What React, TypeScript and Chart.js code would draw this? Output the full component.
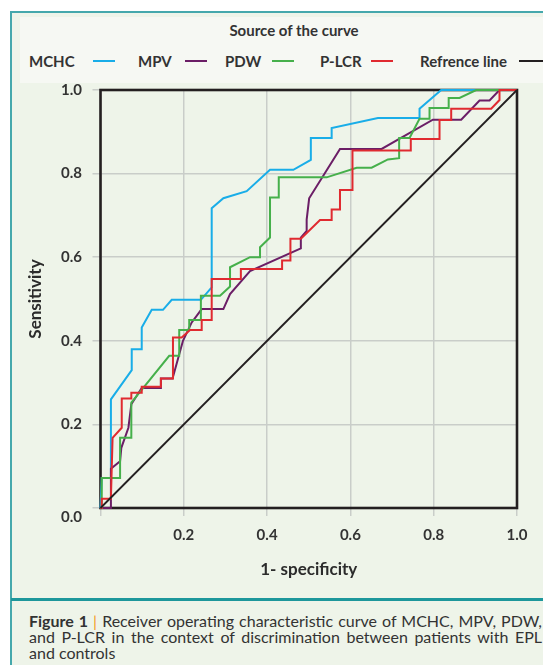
import React, { useEffect, useRef } from "react";
import { Chart, registerables } from "chart.js";

Chart.register(...registerables);

// ---- Data ----
const seriesNames = ["MCHC", "MPV", "PDW", "P-LCR", "Refrence line"];
const seriesColors = ["#19ade8", "#6b1e66", "#46b04b", "#e02a30", "#231f20"];

const mchcX = [0, 0.003, 0.025, 0.025, 0.075, 0.075, 0.099, 0.099, 0.123, 0.15, 0.171, 0.241, 0.267, 0.267, 0.295, 0.351, 0.407, 0.463, 0.505, 0.505, 0.555, 0.555, 0.666, 0.766, 0.766, 0.818, 1];
const mchcY = [0, 0.072, 0.072, 0.26, 0.33, 0.38, 0.38, 0.432, 0.474, 0.474, 0.498, 0.498, 0.528, 0.717, 0.741, 0.758, 0.809, 0.809, 0.833, 0.885, 0.885, 0.909, 0.933, 0.933, 0.955, 1, 1];

const mpvX = [0, 0.025, 0.025, 0.047, 0.05, 0.067, 0.074, 0.099, 0.145, 0.145, 0.173, 0.198, 0.219, 0.243, 0.295, 0.311, 0.359, 0.481, 0.481, 0.495, 0.495, 0.501, 0.575, 0.675, 0.798, 0.866, 0.91, 0.934, 0.958, 1];
const mpvY = [0, 0, 0.094, 0.112, 0.144, 0.192, 0.248, 0.287, 0.287, 0.31, 0.31, 0.4, 0.444, 0.476, 0.476, 0.512, 0.567, 0.621, 0.647, 0.663, 0.69, 0.741, 0.859, 0.859, 0.929, 0.929, 0.975, 0.975, 1, 1];

const pdwX = [0, 0.003, 0.003, 0.047, 0.047, 0.074, 0.074, 0.165, 0.189, 0.189, 0.213, 0.213, 0.241, 0.241, 0.287, 0.311, 0.311, 0.359, 0.383, 0.383, 0.407, 0.407, 0.428, 0.428, 0.543, 0.615, 0.651, 0.69, 0.717, 0.717, 0.742, 0.766, 0.79, 0.79, 0.836, 0.836, 0.862, 0.902, 1];
const pdwY = [0, 0, 0.072, 0.072, 0.168, 0.168, 0.252, 0.364, 0.364, 0.426, 0.426, 0.45, 0.45, 0.508, 0.508, 0.53, 0.576, 0.6, 0.6, 0.624, 0.647, 0.743, 0.743, 0.791, 0.791, 0.814, 0.814, 0.834, 0.837, 0.885, 0.885, 0.931, 0.931, 0.957, 0.957, 0.981, 0.981, 1, 1];

const plcrX = [0, 0.003, 0.003, 0.025, 0.029, 0.051, 0.051, 0.074, 0.074, 0.099, 0.099, 0.145, 0.145, 0.174, 0.174, 0.195, 0.215, 0.243, 0.243, 0.267, 0.267, 0.337, 0.337, 0.436, 0.436, 0.456, 0.456, 0.481, 0.527, 0.555, 0.555, 0.575, 0.575, 0.605, 0.605, 0.745, 0.745, 0.814, 0.814, 0.842, 0.842, 0.938, 0.958, 0.958, 1];
const plcrY = [0, 0, 0.022, 0.022, 0.168, 0.192, 0.262, 0.262, 0.276, 0.276, 0.29, 0.29, 0.31, 0.31, 0.408, 0.408, 0.426, 0.426, 0.45, 0.45, 0.548, 0.548, 0.572, 0.572, 0.592, 0.592, 0.644, 0.644, 0.689, 0.689, 0.714, 0.714, 0.761, 0.761, 0.855, 0.855, 0.883, 0.883, 0.928, 0.928, 0.955, 0.955, 0.976, 1, 1];

const refX = [0, 1];
const refY = [0, 1];

const xTicks = [0, 0.2, 0.4, 0.6, 0.8, 1.0];
const yTicks = [0, 0.2, 0.4, 0.6, 0.8, 1.0];

const legendTitle = "Source of the curve";
const xTitle = "1- specificity";
const yTitle = "Sensitivity";

const captionLead = "Figure 1";
const captionLines = [
  "Receiver operating characteristic curve of MCHC, MPV, PDW,",
  "and P-LCR in the context of discrimination between patients with EPL",
  "and controls",
];

// ---- Layout (page positions of legend items) ----
const legendTextLeft = [29, 138, 225, 320, 420];
const legendLineLeft = [93, 185, 272, 371, 519];
const legendLineWidth = [22, 22, 22, 22, 28];

const xs = [mchcX, mpvX, pdwX, plcrX, refX];
const ys = [mchcY, mpvY, pdwY, plcrY, refY];

const toPoints = (x: number[], y: number[]) => x.map((v, i) => ({ x: v, y: y[i] }));

const framePlugin = {
  id: "frameBox",
  beforeDatasetsDraw(chart: any) {
    const { ctx, chartArea } = chart;
    const { left, top, right, bottom } = chartArea;
    ctx.save();
    ctx.strokeStyle = "#231f20";
    ctx.lineWidth = 2.6;
    ctx.strokeRect(left, top, right - left, bottom - top);
    ctx.restore();
  },
};

const FONT = "Lato, 'Noto Sans', sans-serif";

export default function App() {
  const canvasRef = useRef<HTMLCanvasElement>(null);

  useEffect(() => {
    if (!canvasRef.current) return;
    const datasets = seriesNames.map((name, i) => ({
      label: name,
      data: toPoints(xs[i], ys[i]),
      borderColor: seriesColors[i],
      backgroundColor: seriesColors[i],
      borderWidth: i === 4 ? 1.8 : 2,
      pointRadius: 0,
      tension: 0,
      fill: false,
      showLine: true,
      clip: false as any,
      order: 4 - i,
    }));

    const tickFont = { family: FONT, size: 15, weight: "bold" as const };
    const titleFont = { family: FONT, size: 17, weight: "bold" as const };

    const chart = new Chart(canvasRef.current, {
      type: "line",
      data: { datasets },
      options: {
        animation: false,
        responsive: false,
        devicePixelRatio: 1,
        layout: { padding: { left: 0, right: 26, top: 10, bottom: 0 } },
        plugins: {
          legend: { display: false },
          tooltip: { enabled: false },
        },
        scales: {
          x: {
            type: "linear",
            min: 0,
            max: 1,
            afterBuildTicks: (scale: any) => {
              scale.ticks = xTicks.map((v) => ({ value: v }));
            },
            afterFit: (scale: any) => {
              scale.height = 90;
              scale.paddingLeft = 0;
              scale.paddingRight = 0;
            },
            border: { display: false },
            grid: { color: "#c9cdc9", lineWidth: 1.5, tickLength: 8, drawTicks: true },
            ticks: {
              padding: 10,
              color: "#333333",
              font: tickFont,
              maxRotation: 0,
              callback: (v: any) => (Number(v) === 0 ? "" : Number(v).toFixed(1)),
            },
            title: {
              display: true,
              text: xTitle,
              color: "#2b2b2b",
              font: titleFont,
              padding: { top: 0, bottom: 18 },
            },
          },
          y: {
            type: "linear",
            min: 0,
            max: 1,
            afterBuildTicks: (scale: any) => {
              scale.ticks = yTicks.map((v) => ({ value: v }));
            },
            afterFit: (scale: any) => {
              scale.width = 88.5;
              scale.paddingTop = 0;
              scale.paddingBottom = 0;
            },
            border: { display: false },
            grid: { color: "#c9cdc9", lineWidth: 1.5, tickLength: 8, drawTicks: true },
            ticks: {
              padding: 10.5,
              color: "#333333",
              font: tickFont,
              callback: (v: any) => (Number(v) === 0 ? ["", "0.0"] : Number(v).toFixed(1)),
            },
            title: {
              display: true,
              text: yTitle,
              color: "#2b2b2b",
              font: titleFont,
              padding: { top: 13, bottom: 0 },
            },
          },
        },
      },
      plugins: [framePlugin],
    } as any);
    return () => chart.destroy();
  }, []);

  return (
    <div
      style={{
        position: "absolute",
        left: 0,
        top: 0,
        width: 543,
        height: 665,
        overflow: "hidden",
        background: "#ffffff",
        fontFamily: FONT,
        color: "#333333",
      }}
    >
      {/* outer teal frame */}
      <div
        style={{
          position: "absolute",
          left: 10,
          top: 11,
          width: 620,
          height: 720,
          border: "2px solid #45a8ac",
          background: "#eef4e9",
          boxSizing: "border-box",
        }}
      />
      {/* legend box */}
      <div
        style={{
          position: "absolute",
          left: 20,
          top: 17,
          width: 600,
          height: 66,
          background: "#f6f8f3",
        }}
      />
      <div
        style={{
          position: "absolute",
          left: 194,
          width: 200,
          top: 20,
          textAlign: "center",
          fontWeight: "bold",
          fontSize: 15,
          lineHeight: "20px",
          color: "#333",
          whiteSpace: "nowrap",
        }}
      >
        {legendTitle}
      </div>
      {seriesNames.map((name, i) => (
        <React.Fragment key={name}>
          <div
            style={{
              position: "absolute",
              left: legendTextLeft[i],
              top: 51,
              fontWeight: "bold",
              fontSize: 15,
              lineHeight: "20px",
              color: "#333",
              whiteSpace: "nowrap",
            }}
          >
            {name}
          </div>
          <div
            style={{
              position: "absolute",
              left: legendLineLeft[i],
              top: 60,
              width: legendLineWidth[i],
              height: 2,
              background: seriesColors[i],
            }}
          />
        </React.Fragment>
      ))}
      {/* chart */}
      <div style={{ position: "absolute", left: 12, top: 80, width: 531, height: 518 }}>
        <canvas ref={canvasRef} width={531} height={518} style={{ display: "block", width: 531, height: 518 }} />
      </div>
      {/* caption separator */}
      <div
        style={{
          position: "absolute",
          left: 11,
          top: 598,
          width: 620,
          height: 3,
          background: "#1d979b",
        }}
      />
      {/* caption */}
      <div
        style={{
          position: "absolute",
          left: 29,
          top: 613,
          width: 513,
          fontSize: 16,
          lineHeight: "16px",
          color: "#333",
        }}
      >
        {captionLines.map((line, i) => (
          <div
            key={i}
            style={{
              textAlign: i < captionLines.length - 1 ? "justify" : "left",
              textAlignLast: i < captionLines.length - 1 ? "justify" : "left",
              whiteSpace: "nowrap",
            }}
          >
            {i === 0 ? (
              <>
                <b>{captionLead}</b> <span style={{ color: "#f39a1e" }}>|</span> {line}
              </>
            ) : (
              line
            )}
          </div>
        ))}
      </div>
    </div>
  );
}
